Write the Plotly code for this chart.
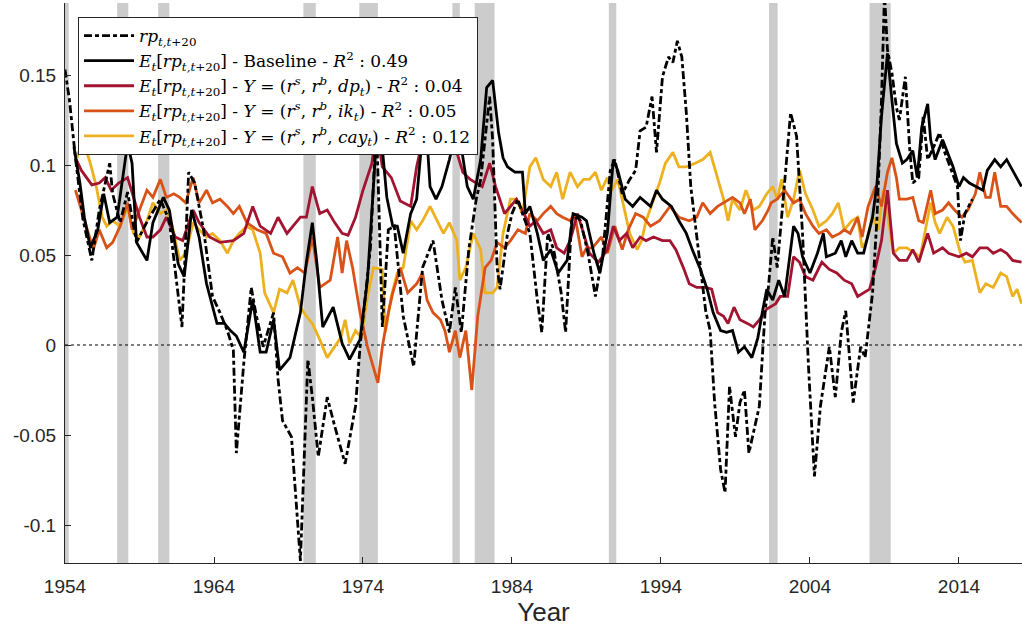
import plotly.graph_objects as go

# NBER recessions (start, end) in decimal years
rec_start = [1953.25, 1957.5, 1960.25, 1970.0, 1973.75, 1980.0, 1981.5, 1990.5, 2001.25, 2008.0]
rec_end = [1954.25, 1958.25, 1961.0, 1970.83, 1975.0, 1980.5, 1982.83, 1991.0, 2001.83, 2009.42]

# realised excess return rp_{t,t+20}
rp_year = [1954.0, 1954.3, 1954.7, 1955.2, 1955.8, 1956.3, 1957.0, 1957.2, 1957.7, 1958.2,
           1958.8, 1959.6, 1960.4, 1961.0, 1961.85, 1962.3, 1962.7, 1963.3, 1963.9, 1964.4,
           1964.9, 1965.3, 1965.5, 1966.0, 1966.5, 1966.8, 1967.3, 1968.0, 1968.3, 1968.6,
           1969.2, 1969.8, 1970.3, 1970.6, 1971.0, 1971.6, 1972.1, 1972.8, 1973.5, 1973.8,
           1974.5, 1974.9, 1975.3, 1975.7, 1976.1, 1976.5, 1976.7, 1977.4, 1978.0, 1978.7,
           1979.3, 1979.8, 1980.2, 1980.6, 1981.1, 1981.6, 1981.9, 1982.5, 1982.7, 1983.0,
           1983.2, 1983.7, 1984.0, 1984.4, 1984.7, 1985.2, 1985.7, 1986.0, 1986.4, 1986.8,
           1987.3, 1987.6, 1988.0, 1988.4, 1988.6, 1989.1, 1989.6, 1990.1, 1990.6, 1990.9,
           1991.4, 1991.9, 1992.3, 1992.6, 1993.0, 1993.4, 1993.7, 1994.1, 1994.5, 1994.8,
           1995.1, 1995.4, 1995.7, 1996.0, 1996.4, 1996.7, 1997.0, 1997.3, 1997.6, 1998.0,
           1998.3, 1998.6, 1999.0, 1999.3, 1999.6, 1999.9, 2000.3, 2000.6, 2001.0, 2001.2,
           2001.5, 2001.8, 2002.2, 2002.7, 2003.1, 2003.5, 2003.9, 2004.3, 2004.7, 2005.1,
           2005.3, 2005.7, 2006.1, 2006.4, 2006.9, 2007.4, 2007.7, 2008.2, 2008.5, 2008.8,
           2009.0, 2009.2, 2009.5, 2009.8, 2010.0, 2010.4, 2010.7, 2010.9, 2011.3, 2011.6,
           2011.9, 2012.3, 2012.7, 2013.0, 2013.4, 2013.9, 2014.1, 2014.4, 2014.9]
rp_val = [0.153, 0.136, 0.104, 0.070, 0.047, 0.075, 0.101, 0.084, 0.068, 0.085,
          0.057, 0.070, 0.081, 0.069, 0.010, 0.096, 0.090, 0.064, 0.027, 0.018,
          0.008, -0.003, -0.060, -0.010, 0.032, 0.018, -0.001, 0.018, -0.019, -0.042,
          -0.051, -0.120, -0.008, -0.029, -0.062, -0.029, -0.045, -0.066, -0.034, -0.001,
          0.054, 0.125, 0.010, 0.064, 0.066, 0.031, 0.016, -0.012, 0.043, 0.058,
          0.025, 0.007, 0.032, 0.007, 0.053, 0.081, 0.092, 0.138, 0.114, 0.043,
          0.031, 0.062, 0.073, 0.081, 0.073, 0.062, 0.025, 0.007, 0.062, 0.053,
          0.029, 0.007, 0.069, 0.071, 0.069, 0.051, 0.027, 0.051, 0.097, 0.103,
          0.084, 0.092, 0.097, 0.119, 0.121, 0.138, 0.107, 0.149, 0.160, 0.157,
          0.169, 0.160, 0.129, 0.088, 0.060, 0.040, 0.019, 0.008, -0.032, -0.069,
          -0.082, -0.023, -0.051, -0.032, -0.025, -0.060, -0.046, -0.034, 0.020, 0.031,
          0.060, 0.043, 0.081, 0.129, 0.116, 0.062, -0.012, -0.073, -0.034, -0.012,
          -0.001, -0.029, 0.007, 0.019, -0.032, -0.001, -0.007, 0.029, 0.071, 0.136,
          0.195, 0.164, 0.151, 0.132, 0.125, 0.149, 0.108, 0.090, 0.093, 0.127,
          0.103, 0.110, 0.118, 0.108, 0.099, 0.088, 0.058, 0.073, 0.081]

# baseline expected return
base_year = [1954.6, 1955.0, 1955.3, 1955.7, 1956.2, 1956.6, 1957.0, 1957.5, 1958.2, 1958.5,
             1958.8, 1959.5, 1959.9, 1960.6, 1961.0, 1961.6, 1962.0, 1962.5, 1963.0, 1963.5,
             1964.2, 1964.7, 1965.1, 1965.5, 1966.0, 1966.6, 1967.1, 1967.5, 1968.0, 1968.4,
             1969.1, 1969.8, 1970.2, 1970.6, 1970.9, 1971.3, 1972.0, 1972.6, 1973.1, 1973.8,
             1974.3, 1974.8, 1975.0, 1975.3, 1975.6, 1976.0, 1976.3, 1976.7, 1977.2, 1977.6,
             1978.0, 1978.2, 1978.5, 1978.9, 1979.3, 1979.8, 1980.3, 1980.6, 1981.0, 1981.4,
             1981.9, 1982.3, 1982.7, 1983.1, 1983.4, 1983.7, 1984.2, 1984.7, 1984.9, 1985.2,
             1985.7, 1986.1, 1986.6, 1987.1, 1987.7, 1988.1, 1988.7, 1989.0, 1989.5, 1989.9,
             1990.4, 1990.8, 1991.1, 1991.6, 1992.1, 1992.6, 1993.3, 1993.7, 1994.1, 1994.7,
             1995.2, 1995.7, 1996.1, 1996.6, 1997.1, 1997.5, 1998.0, 1998.4, 1998.8, 1999.2,
             1999.6, 2000.1, 2000.5, 2000.8, 2001.1, 2001.5, 2001.9, 2002.3, 2002.9, 2003.2,
             2003.5, 2004.0, 2004.5, 2004.9, 2005.1, 2005.7, 2006.1, 2006.4, 2006.8, 2007.2,
             2007.6, 2008.2, 2008.5, 2008.8, 2009.2, 2009.5, 2009.8, 2010.2, 2010.5, 2010.9,
             2011.2, 2011.5, 2011.9, 2012.1, 2012.4, 2012.9, 2013.2, 2013.6, 2014.0, 2014.3,
             2014.7, 2015.2, 2015.6, 2015.9, 2016.4, 2016.8, 2017.2, 2017.6, 2018.2]
base_val = [0.110, 0.090, 0.071, 0.054, 0.064, 0.084, 0.068, 0.071, 0.112, 0.101,
            0.057, 0.047, 0.068, 0.082, 0.075, 0.045, 0.038, 0.075, 0.060, 0.034,
            0.012, 0.012, 0.008, 0.005, -0.004, 0.025, -0.004, -0.004, 0.014, -0.014,
            -0.007, 0.018, 0.046, 0.068, 0.046, 0.010, 0.021, 0.001, -0.008, 0.003,
            0.036, 0.101, 0.136, 0.110, 0.082, 0.066, 0.066, 0.051, 0.073, 0.081,
            0.118, 0.127, 0.088, 0.081, 0.088, 0.103, 0.121, 0.110, 0.088, 0.081,
            0.103, 0.143, 0.147, 0.118, 0.104, 0.099, 0.096, 0.096, 0.073, 0.077,
            0.062, 0.047, 0.053, 0.040, 0.047, 0.073, 0.071, 0.069, 0.051, 0.040,
            0.062, 0.103, 0.097, 0.081, 0.077, 0.082, 0.077, 0.086, 0.081, 0.077,
            0.069, 0.062, 0.053, 0.043, 0.031, 0.018, 0.008, 0.007, 0.008, -0.004,
            -0.001, -0.007, 0.004, 0.018, 0.031, 0.025, 0.036, 0.027, 0.066, 0.062,
            0.049, 0.040, 0.051, 0.062, 0.049, 0.051, 0.058, 0.049, 0.058, 0.051,
            0.051, 0.071, 0.090, 0.127, 0.162, 0.136, 0.112, 0.101, 0.103, 0.108,
            0.093, 0.121, 0.134, 0.114, 0.103, 0.114, 0.108, 0.099, 0.088, 0.093,
            0.090, 0.088, 0.086, 0.097, 0.103, 0.099, 0.103, 0.097, 0.088]

# Y = (r^s, r^b, dp_t)
dp_year = [1954.7, 1955.1, 1955.8, 1956.3, 1956.7, 1957.1, 1957.6, 1958.2, 1958.6, 1959.0,
           1959.5, 1959.9, 1960.4, 1960.8, 1961.4, 1961.9, 1962.6, 1963.0, 1963.7, 1964.4,
           1965.3, 1966.0, 1966.6, 1967.1, 1967.8, 1968.3, 1968.9, 1969.8, 1970.2, 1970.6,
           1971.1, 1971.6, 1972.1, 1972.6, 1973.0, 1973.5, 1974.0, 1974.6, 1974.9, 1975.3,
           1975.9, 1976.5, 1977.2, 1977.6, 1978.0, 1978.7, 1979.2, 1979.8, 1980.3, 1980.7,
           1981.2, 1981.6, 1982.0, 1982.5, 1982.9, 1983.5, 1983.9, 1984.3, 1984.8, 1985.2,
           1985.6, 1986.1, 1986.6, 1987.0, 1987.5, 1987.9, 1988.4, 1988.8, 1989.2, 1989.8,
           1990.4, 1990.8, 1991.2, 1991.7, 1992.1, 1992.6, 1993.0, 1993.5, 1994.1, 1994.6,
           1995.0, 1995.5, 1995.9, 1996.4, 1997.0, 1997.4, 1997.8, 1998.2, 1998.5, 1998.9,
           1999.3, 1999.8, 2000.2, 2000.6, 2001.1, 2001.7, 2002.0, 2002.5, 2002.9, 2003.3,
           2003.7, 2004.2, 2004.8, 2005.3, 2005.8, 2006.3, 2006.8, 2007.2, 2007.6, 2008.0,
           2008.4, 2008.8, 2009.2, 2009.6, 2010.0, 2010.5, 2010.9, 2011.3, 2011.9, 2012.3,
           2012.9, 2013.3, 2014.0, 2014.5, 2014.9, 2015.4, 2015.9, 2016.3, 2016.8, 2017.2,
           2017.6, 2018.2]
dp_val = [0.104, 0.097, 0.089, 0.090, 0.093, 0.086, 0.090, 0.093, 0.082, 0.071,
          0.060, 0.060, 0.064, 0.071, 0.060, 0.058, 0.075, 0.068, 0.060, 0.057,
          0.058, 0.062, 0.077, 0.066, 0.062, 0.071, 0.062, 0.071, 0.071, 0.088,
          0.073, 0.075, 0.068, 0.062, 0.061, 0.071, 0.086, 0.101, 0.120, 0.099,
          0.093, 0.080, 0.077, 0.099, 0.114, 0.114, 0.112, 0.114, 0.107, 0.096,
          0.092, 0.090, 0.088, 0.101, 0.088, 0.073, 0.077, 0.081, 0.073, 0.066,
          0.069, 0.062, 0.064, 0.054, 0.051, 0.058, 0.073, 0.062, 0.051, 0.046,
          0.053, 0.066, 0.058, 0.062, 0.054, 0.060, 0.058, 0.060, 0.058, 0.058,
          0.053, 0.043, 0.034, 0.032, 0.032, 0.031, 0.018, 0.016, 0.012, 0.021,
          0.014, 0.012, 0.010, 0.014, 0.020, 0.023, 0.027, 0.027, 0.049, 0.046,
          0.038, 0.036, 0.046, 0.042, 0.040, 0.036, 0.034, 0.027, 0.029, 0.031,
          0.043, 0.058, 0.086, 0.051, 0.047, 0.047, 0.053, 0.046, 0.062, 0.051,
          0.054, 0.051, 0.049, 0.051, 0.049, 0.054, 0.054, 0.051, 0.053, 0.051,
          0.047, 0.046]

# Y = (r^s, r^b, ik_t)
ik_year = [1954.7, 1955.1, 1955.5, 1955.9, 1956.3, 1956.8, 1957.2, 1957.7, 1958.2, 1958.5,
           1959.0, 1959.5, 1959.9, 1960.4, 1960.8, 1961.3, 1961.7, 1962.1, 1962.6, 1963.0,
           1963.5, 1963.9, 1964.4, 1964.9, 1965.3, 1965.7, 1966.2, 1966.9, 1967.5, 1968.0,
           1968.6, 1969.1, 1969.6, 1970.1, 1970.6, 1971.1, 1971.8, 1972.3, 1972.6, 1972.9,
           1973.3, 1973.8, 1974.3, 1974.7, 1975.0, 1975.3, 1975.7, 1976.0, 1976.5, 1977.0,
           1977.6, 1978.0, 1978.3, 1978.7, 1979.2, 1979.5, 1979.8, 1980.2, 1980.5, 1980.9,
           1981.3, 1981.7, 1982.2, 1982.6, 1983.0, 1983.5, 1983.9, 1984.4, 1984.9, 1985.2,
           1985.7, 1986.1, 1986.6, 1987.0, 1987.4, 1987.9, 1988.2, 1988.7, 1989.0, 1989.4,
           1990.0, 1990.4, 1990.9, 1991.4, 1991.8, 1992.3, 1992.8, 1993.3, 1993.9, 1994.6,
           1995.2, 1995.9, 1996.4, 1996.8, 1997.3, 1997.8, 1998.2, 1998.8, 1999.3, 1999.6,
           2000.0, 2000.3, 2000.8, 2001.2, 2001.4, 2001.8, 2002.3, 2002.9, 2003.3, 2003.7,
           2004.2, 2004.6, 2005.1, 2005.5, 2006.0, 2006.3, 2006.7, 2007.2, 2007.5, 2007.9,
           2008.4, 2008.8, 2009.2, 2009.5, 2009.8, 2010.0, 2010.5, 2010.9, 2011.3, 2011.6,
           2012.1, 2012.4, 2012.9, 2013.3, 2013.7, 2014.2, 2014.6, 2015.1, 2015.4, 2015.8,
           2016.1, 2016.4, 2016.8, 2017.2, 2017.6, 2018.2]
ik_val = [0.086, 0.075, 0.064, 0.053, 0.064, 0.054, 0.057, 0.066, 0.079, 0.064,
          0.075, 0.086, 0.082, 0.092, 0.082, 0.084, 0.082, 0.079, 0.093, 0.079,
          0.086, 0.079, 0.081, 0.077, 0.073, 0.077, 0.068, 0.064, 0.062, 0.051,
          0.049, 0.040, 0.043, 0.040, 0.060, 0.032, 0.036, 0.060, 0.040, 0.058,
          0.043, 0.018, -0.001, -0.012, -0.021, -0.001, 0.018, 0.029, 0.043, 0.029,
          0.034, 0.040, 0.025, 0.018, 0.014, 0.008, -0.004, 0.008, -0.007, 0.008,
          -0.025, 0.016, 0.043, 0.047, 0.057, 0.054, 0.058, 0.064, 0.062, 0.073,
          0.069, 0.073, 0.077, 0.073, 0.071, 0.069, 0.073, 0.049, 0.054, 0.054,
          0.060, 0.051, 0.066, 0.053, 0.064, 0.073, 0.071, 0.066, 0.069, 0.077,
          0.071, 0.069, 0.071, 0.079, 0.073, 0.077, 0.079, 0.082, 0.079, 0.073,
          0.081, 0.064, 0.069, 0.075, 0.079, 0.081, 0.086, 0.079, 0.081, 0.073,
          0.066, 0.062, 0.064, 0.060, 0.062, 0.064, 0.062, 0.071, 0.060, 0.077,
          0.088, 0.077, 0.096, 0.104, 0.093, 0.081, 0.081, 0.082, 0.069, 0.068,
          0.086, 0.073, 0.075, 0.079, 0.075, 0.071, 0.075, 0.084, 0.096, 0.082,
          0.082, 0.096, 0.077, 0.077, 0.073, 0.068]

# Y = (r^s, r^b, cay_t)
cay_year = [1954.8, 1955.2, 1955.7, 1956.1, 1956.5, 1956.8, 1957.2, 1957.7, 1958.2, 1958.6,
            1959.0, 1959.5, 1959.9, 1960.4, 1960.8, 1961.2, 1961.7, 1962.1, 1962.6, 1963.0,
            1963.5, 1963.9, 1964.4, 1964.9, 1965.3, 1965.7, 1966.2, 1966.6, 1967.1, 1967.4,
            1968.0, 1968.4, 1968.9, 1969.3, 1969.8, 1970.2, 1970.6, 1971.1, 1971.6, 1972.1,
            1972.5, 1972.8, 1973.1, 1973.5, 1973.9, 1974.3, 1974.7, 1975.3, 1975.5, 1975.9,
            1976.3, 1976.7, 1977.2, 1977.6, 1978.0, 1978.5, 1979.0, 1979.4, 1979.8, 1980.3,
            1980.5, 1980.9, 1981.4, 1981.9, 1982.2, 1982.7, 1983.0, 1983.4, 1983.9, 1984.3,
            1984.7, 1985.2, 1985.6, 1986.1, 1986.6, 1987.0, 1987.4, 1987.9, 1988.4, 1988.8,
            1989.2, 1989.6, 1990.0, 1990.4, 1990.7, 1991.1, 1991.5, 1991.9, 1992.4, 1992.7,
            1993.0, 1993.5, 1993.9, 1994.3, 1994.8, 1995.2, 1995.7, 1996.3, 1996.8, 1997.3,
            1997.8, 1998.2, 1998.5, 1998.8, 1999.3, 1999.7, 2000.2, 2000.6, 2001.1, 2001.5,
            2001.8, 2002.1, 2002.5, 2002.9, 2003.3, 2003.7, 2004.2, 2004.6, 2005.1, 2005.5,
            2005.9, 2006.3, 2006.8, 2007.2, 2007.5, 2007.8, 2008.2, 2008.6, 2008.9, 2009.2,
            2009.6, 2010.0, 2010.5, 2011.0, 2011.4, 2011.7, 2012.1, 2012.4, 2012.7, 2013.2,
            2013.6, 2014.1, 2014.4, 2014.9, 2015.4, 2015.8, 2016.3, 2016.8, 2017.2, 2017.6,
            2017.9, 2018.2]
cay_val = [0.104, 0.114, 0.101, 0.088, 0.071, 0.066, 0.069, 0.066, 0.077, 0.062,
           0.060, 0.069, 0.079, 0.073, 0.075, 0.066, 0.047, 0.051, 0.068, 0.064,
           0.060, 0.062, 0.058, 0.051, 0.058, 0.062, 0.066, 0.064, 0.051, 0.029,
           0.018, 0.031, 0.029, 0.036, 0.021, 0.016, 0.012, 0.003, -0.007, -0.001,
           0.004, 0.014, 0.001, 0.008, 0.004, 0.027, 0.043, 0.042, 0.007, 0.027,
           0.040, 0.043, 0.069, 0.064, 0.069, 0.077, 0.069, 0.062, 0.068, 0.058,
           0.036, 0.043, 0.062, 0.053, 0.029, 0.029, 0.032, 0.062, 0.081, 0.081,
           0.073, 0.099, 0.104, 0.092, 0.088, 0.096, 0.081, 0.096, 0.088, 0.092,
           0.092, 0.096, 0.086, 0.093, 0.086, 0.092, 0.077, 0.062, 0.053, 0.058,
           0.069, 0.081, 0.090, 0.101, 0.107, 0.099, 0.099, 0.101, 0.103, 0.107,
           0.093, 0.081, 0.069, 0.081, 0.075, 0.086, 0.075, 0.077, 0.084, 0.088,
           0.081, 0.092, 0.071, 0.081, 0.097, 0.084, 0.075, 0.066, 0.069, 0.073,
           0.079, 0.064, 0.069, 0.071, 0.054, 0.058, 0.071, 0.064, 0.086, 0.073,
           0.051, 0.054, 0.054, 0.051, 0.049, 0.062, 0.079, 0.068, 0.062, 0.071,
           0.066, 0.051, 0.046, 0.047, 0.029, 0.034, 0.032, 0.040, 0.038, 0.027,
           0.031, 0.023]

x_ticks = [1954, 1964, 1974, 1984, 1994, 2004, 2014]
y_ticks = [-0.1, -0.05, 0, 0.05, 0.1, 0.15]
y_ticklabels = ["-0.1", "-0.05", "0", "0.05", "0.1", "0.15"]

ERP = "<i>E</i><sub><i>t</i></sub>[<i>rp</i><sub><i>t,t</i>+20</sub>]"
R2 = "<i>R</i><sup>2</sup> : "
YVEC = "<i>Y</i> = (<i>r</i><sup><i>s</i></sup>, <i>r</i><sup><i>b</i></sup>, "

series = [
    (rp_year, rp_val, "<i>rp</i><sub><i>t,t</i>+20</sub>", "black", "8px,3px,4px,3px"),
    (base_year, base_val, ERP + " - Baseline - " + R2 + "0.49", "black", "solid"),
    (dp_year, dp_val, ERP + " - " + YVEC + "<i>dp</i><sub><i>t</i></sub>) - " + R2 + "0.04", "#A2142F", "solid"),
    (ik_year, ik_val, ERP + " - " + YVEC + "<i>ik</i><sub><i>t</i></sub>) - " + R2 + "0.05", "#D95319", "solid"),
    (cay_year, cay_val, ERP + " - " + YVEC + "<i>cay</i><sub><i>t</i></sub>) - " + R2 + "0.12", "#EDB120", "solid"),
]

fig = go.Figure()

# draw the coloured series first so the black lines sit on top; legend order kept
for i in [4, 3, 2, 1, 0]:
    xs, ys, name, color, dash = series[i]
    fig.add_trace(go.Scatter(
        x=xs, y=ys, mode="lines", name=name,
        line=dict(color=color, width=2.8, dash=dash),
        legendrank=i + 1,
    ))

# recession bands
for s, e in zip(rec_start, rec_end):
    fig.add_vrect(x0=s, x1=e, fillcolor="#cccccc", opacity=1, line_width=0, layer="below")

# zero reference line
fig.add_hline(y=0, line=dict(color="black", width=1, dash="dot"), layer="below")

fig.update_layout(
    width=1022, height=633,
    margin=dict(l=65, r=0, t=3, b=70),
    plot_bgcolor="white", paper_bgcolor="white",
    font=dict(family="Liberation Sans, Arial", color="#262626", size=19),
    showlegend=True,
    legend=dict(
        x=0.0136, y=0.975, xanchor="left", yanchor="top",
        bgcolor="white", bordercolor="#262626", borderwidth=1,
        font=dict(family="DejaVu Serif", size=17, color="black"),
        tracegroupgap=0, itemwidth=50,
    ),
)

fig.update_xaxes(
    range=[1954, 2018.23], tickvals=x_ticks,
    showgrid=False, zeroline=False,
    showline=True, linecolor="#262626", linewidth=1,
    ticks="inside", ticklen=6, tickcolor="#262626",
    tickfont=dict(size=19, color="#262626"), ticklabelstandoff=6,
    title=dict(text="Year", font=dict(size=26, color="#262626"), standoff=4),
)
fig.update_yaxes(
    range=[-0.1211, 0.19], tickvals=y_ticks, ticktext=y_ticklabels,
    showgrid=False, zeroline=False,
    showline=True, linecolor="#262626", linewidth=1,
    ticks="inside", ticklen=6, tickcolor="#262626",
    tickfont=dict(size=19, color="#262626"), ticklabelstandoff=4,
)

# the page's default body margin would shift the plot; remove it
fig.write_html("out.html", config={"displayModeBar": False},
               post_script="document.body.style.margin='0';")
